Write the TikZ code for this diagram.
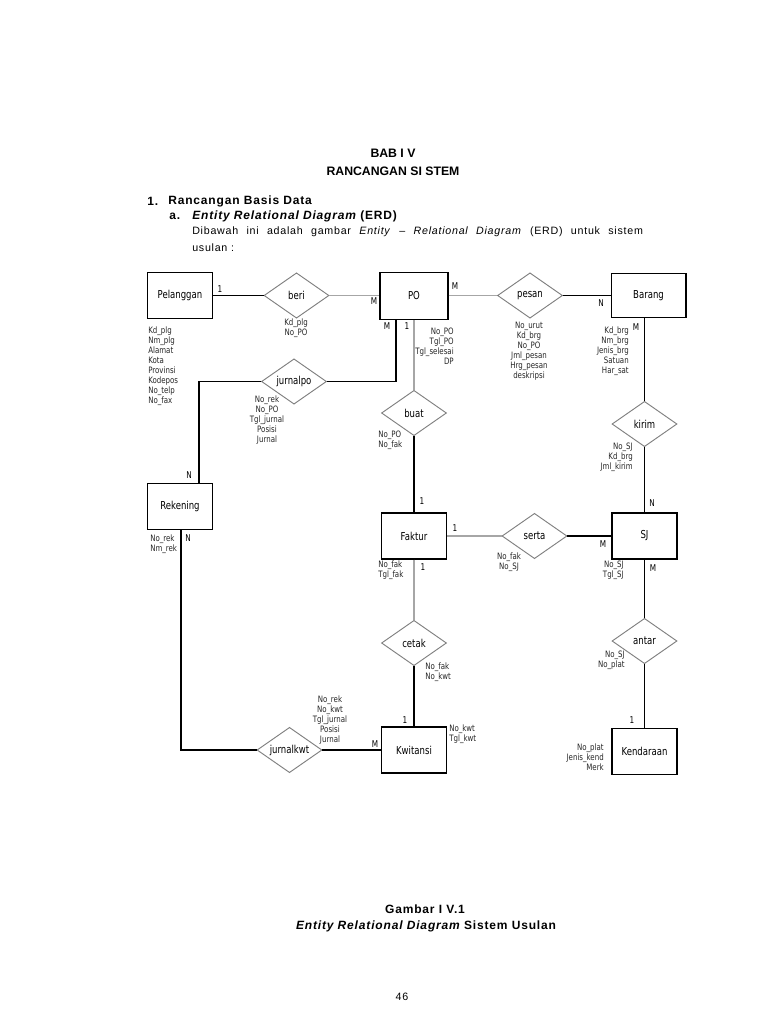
\documentclass[tikz,border=0pt]{standalone}
\usepackage{fontspec}
\setmainfont{Liberation Sans}
\newfontfamily\bodyfont[LetterSpace=7]{Liberation Sans}
\newfontfamily\dgfont[FakeStretch=0.78]{DejaVu Sans}
\newfontfamily\atfont[FakeStretch=0.8]{DejaVu Sans}
\usetikzlibrary{shapes.geometric}
\tikzset{
  ent/.style={draw, line width=1pt, minimum width=48.75pt, minimum height=34.5pt, inner sep=0pt,
    font=\dgfont\fontsize{8.2}{9}\selectfont},
  rel/.style={diamond, aspect=1.45, draw=black!50, line width=0.7pt, minimum width=48.75pt,
    minimum height=34pt, inner sep=0pt, font=\dgfont\fontsize{8.2}{9}\selectfont},
  card/.style={inner sep=0pt, font=\dgfont\fontsize{7}{8}\selectfont},
  attr/.style={inner sep=0pt, text=black!85, font=\atfont\fontsize{6.6}{7.4}\selectfont},
  ln/.style={line width=1pt, black},
  gln/.style={line width=1pt, black!35},
  ttl/.style={inner sep=0pt, font=\fontsize{9.2}{11}\selectfont\bfseries},
  body/.style={inner sep=0pt, font=\bodyfont\fontsize{9}{11}\selectfont\bfseries},
  para/.style={inner sep=0pt, font=\bodyfont\fontsize{8}{10}\selectfont}
}
\begin{document}
\begin{tikzpicture}[x=0.75pt,y=-0.75pt]
\fill[white] (0,0) rectangle (768,1024);
\path[use as bounding box] (0,0) rectangle (768,1024);

% ---- header
\node[ttl] (t1) at (393,153) {BAB I V};
\node[ttl] (t2) at (393,171) {RANCANGAN SI STEM};
\node[body, anchor=west] (h1n) at (147,201) {1.};
\node[body, anchor=west] (h1) at (168,201) {Rancangan Basis Data};
\node[body, anchor=west] (h2n) at (169,216.5) {a.};
\node[body, anchor=west] (h2) at (192,216.5) {\itshape Entity Relational Diagram\upshape\ (ERD)};
\node[para, anchor=west] (p1) at (192,232) {\makebox[338pt][s]{Dibawah ini adalah gambar \textit{Entity} \textendash{} \textit{Relational Diagram} (ERD) untuk sistem}};
\node[para, anchor=west] (p2) at (192,248) {usulan :};

% ---- entities
\node[ent] (pel) at (180,295.5) {Pelanggan};
\node[ent, minimum width=51pt, minimum height=35.25pt] (po) at (414,296) {PO};
\node[ent, minimum width=56pt, minimum height=33pt] (bar) at (648.5,295.5) {Barang};
\node[ent] (rek) at (180,506.5) {Rekening};
\node[ent] (fak) at (414,536) {Faktur};
\node[ent] (sj) at (644.5,536) {SJ};
\node[ent] (kwi) at (414,750) {Kwitansi};
\node[ent] (ken) at (644.5,751.5) {Kendaraan};

% ---- relationships
\node[rel] (beri) at (296.5,295.5) {beri};
\node[rel] (pesan) at (530,295.5) {pesan};
\node[rel] (jp) at (294,381.5) {jurnalpo};
\node[rel] (buat) at (414,413) {buat};
\node[rel] (kirim) at (644.5,424) {kirim};
\node[rel] (serta) at (534.5,536) {serta};
\node[rel] (cetak) at (414,643) {cetak};
\node[rel] (antar) at (644.5,641) {antar};
\node[rel] (jk) at (289.5,750) {jurnalkwt};

% ---- connectors
\coordinate (c1) at (396,381.5);
\coordinate (c2) at (199,381.5);
\coordinate (c3) at (181,750);
\draw[ln] (pel.east) -- (beri.west);
\draw[gln] (beri.east) -- (beri.east -| po.west);
\draw[gln] (pesan.west -| po.east) -- (pesan.west);
\draw[ln] (pesan.east) -- (pesan.east -| bar.west);
\draw[ln] (po.south -| c1) -- (c1) -- (jp.east);
\draw[ln] (jp.west) -- (c2) -- (c2 |- rek.north);
\draw[gln] (po.south) -- (buat.north);
\draw[ln] (buat.south) -- (fak.north);
\draw[ln] (kirim.north |- bar.south) -- (kirim.north);
\draw[ln] (kirim.south) -- (sj.north);
\draw[gln] (fak.east) -- (serta.west);
\draw[ln] (serta.east) -- (sj.west);
\draw[gln] (fak.south) -- (cetak.north);
\draw[ln] (cetak.south) -- (kwi.north);
\draw[ln] (sj.south) -- (antar.north);
\draw[ln] (antar.south) -- (ken.north);
\draw[ln] (c3 |- rek.south) -- (c3) -- (jk.west);
\draw[ln] (jk.east) -- (kwi.west);

% ---- cardinalities
\node[card] (k1) at (220,289) {1};
\node[card] (k2) at (374,301) {M};
\node[card] (k3) at (455,286) {M};
\node[card] (k4) at (601,303) {N};
\node[card] (k5) at (387,326) {M};
\node[card] (k6) at (407,326) {1};
\node[card] (k7) at (636,327) {M};
\node[card] (k8) at (189,475) {N};
\node[card] (k9) at (188,538) {N};
\node[card] (k10) at (422,501) {1};
\node[card] (k11) at (423,567) {1};
\node[card] (k12) at (455,528) {1};
\node[card] (k13) at (652,503) {N};
\node[card] (k14) at (603,544) {M};
\node[card] (k15) at (653,568) {M};
\node[card] (k16) at (405,720) {1};
\node[card] (k17) at (375,744) {M};
\node[card] (k18) at (632,720) {1};

% ---- attributes
\node[attr, anchor=north west, align=left] (a1) at (148,327) {Kd\_plg\\Nm\_plg\\Alamat\\Kota\\Provinsi\\Kodepos\\No\_telp\\No\_fax};
\node[attr, anchor=north, align=center] (a2) at (296,319) {Kd\_plg\\No\_PO};
\node[attr, anchor=north east, align=right] (a3) at (454,328) {No\_PO\\Tgl\_PO\\Tgl\_selesai\\DP};
\node[attr, anchor=north, align=center] (a4) at (529,322) {No\_urut\\Kd\_brg\\No\_PO\\Jml\_pesan\\Hrg\_pesan\\deskripsi};
\node[attr, anchor=north east, align=right] (a5) at (629,327) {Kd\_brg\\Nm\_brg\\Jenis\_brg\\Satuan\\Har\_sat};
\node[attr, anchor=north, align=center] (a6) at (267,396) {No\_rek\\No\_PO\\Tgl\_jurnal\\Posisi\\Jurnal};
\node[attr, anchor=north west, align=left] (a7) at (378,431) {No\_PO\\No\_fak};
\node[attr, anchor=north east, align=right] (a8) at (633,443) {No\_SJ\\Kd\_brg\\Jml\_kirim};
\node[attr, anchor=north west, align=left] (a9) at (150,535) {No\_rek\\Nm\_rek};
\node[attr, anchor=north west, align=left] (a10) at (378,561) {No\_fak\\Tgl\_fak};
\node[attr, anchor=north, align=center] (a11) at (509,553) {No\_fak\\No\_SJ};
\node[attr, anchor=north east, align=right] (a12) at (624,561) {No\_SJ\\Tgl\_SJ};
\node[attr, anchor=north west, align=left] (a13) at (425,663) {No\_fak\\No\_kwt};
\node[attr, anchor=north east, align=right] (a14) at (625,651) {No\_SJ\\No\_plat};
\node[attr, anchor=north, align=center] (a15) at (330,696) {No\_rek\\No\_kwt\\Tgl\_jurnal\\Posisi\\Jurnal};
\node[attr, anchor=north west, align=left] (a16) at (449,725) {No\_kwt\\Tgl\_kwt};
\node[attr, anchor=north east, align=right] (a17) at (604,744) {No\_plat\\Jenis\_kend\\Merk};

% ---- caption
\node[body] (g1) at (425,909) {Gambar I V.1};
\node[body] (g2) at (426,926) {\itshape Entity Relational Diagram\upshape\ Sistem Usulan};
\node[para] (pg) at (402,997) {46};
\end{tikzpicture}
\end{document}
